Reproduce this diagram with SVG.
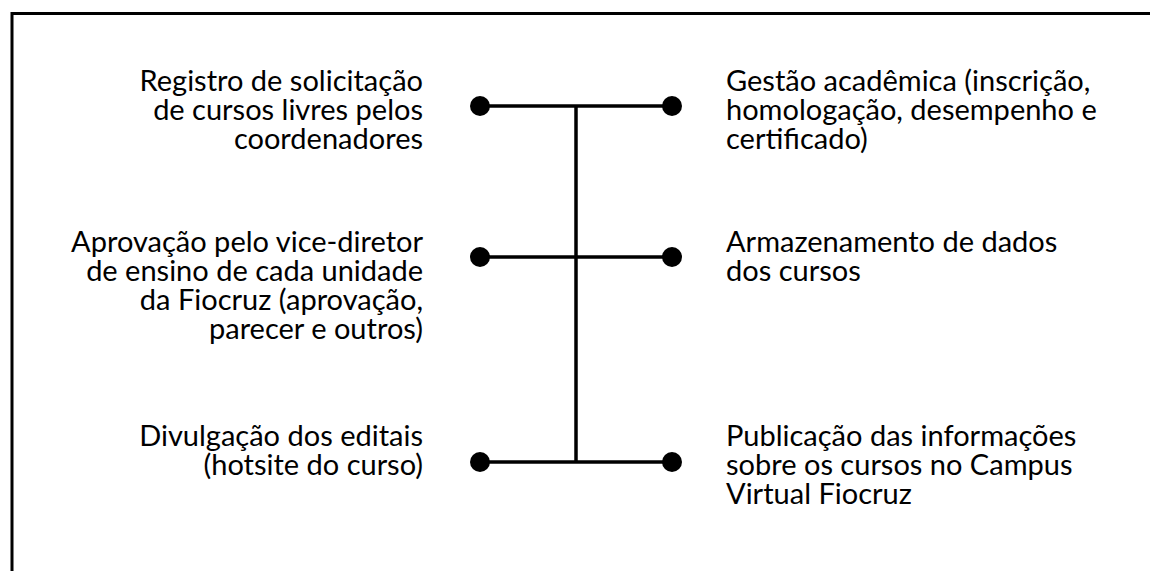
<svg xmlns="http://www.w3.org/2000/svg" width="1150" height="571" viewBox="0 0 1150 571">
<style>
text{font-family:Lato,"Liberation Sans",sans-serif;font-size:29px;fill:#000}
.l{text-anchor:end}
.ln{stroke:#000;stroke-width:3.5;fill:none}
.dot{fill:#000}
</style>
<rect x="12" y="13.5" width="1200" height="620" fill="#fff" stroke="#000" stroke-width="3"/>
<g id="connectors">
<line class="ln" x1="576" y1="106" x2="576" y2="462"/>
<line class="ln" x1="480" y1="106" x2="672" y2="106"/>
<line class="ln" x1="480" y1="257" x2="672" y2="257"/>
<line class="ln" x1="480" y1="462" x2="672" y2="462"/>
<circle class="dot" cx="480" cy="106" r="10"/>
<circle class="dot" cx="672" cy="106" r="10"/>
<circle class="dot" cx="480" cy="257" r="10"/>
<circle class="dot" cx="672" cy="257" r="10"/>
<circle class="dot" cx="480" cy="462" r="10"/>
<circle class="dot" cx="672" cy="462" r="10"/>
</g>
<g id="n1"><text class="l" x="423" y="91">Registro de solicitação</text><text class="l" x="423" y="120">de cursos livres pelos</text><text class="l" x="423" y="149">coordenadores</text></g>
<g id="n2"><text class="l" x="423" y="252">Aprovação pelo vice-diretor</text><text class="l" x="423" y="281">de ensino de cada unidade</text><text class="l" x="423" y="310">da Fiocruz (aprovação,</text><text class="l" x="423" y="339">parecer e outros)</text></g>
<g id="n3"><text class="l" x="423" y="446">Divulgação dos editais</text><text class="l" x="423" y="475">(hotsite do curso)</text></g>
<g id="n4"><text x="726" y="91">Gestão acadêmica (inscrição,</text><text x="726" y="120">homologação, desempenho e</text><text x="726" y="149">certificado)</text></g>
<g id="n5"><text x="726" y="252">Armazenamento de dados</text><text x="726" y="281">dos cursos</text></g>
<g id="n6"><text x="726" y="446">Publicação das informações</text><text x="726" y="475">sobre os cursos no Campus</text><text x="726" y="504">Virtual Fiocruz</text></g>
</svg>
